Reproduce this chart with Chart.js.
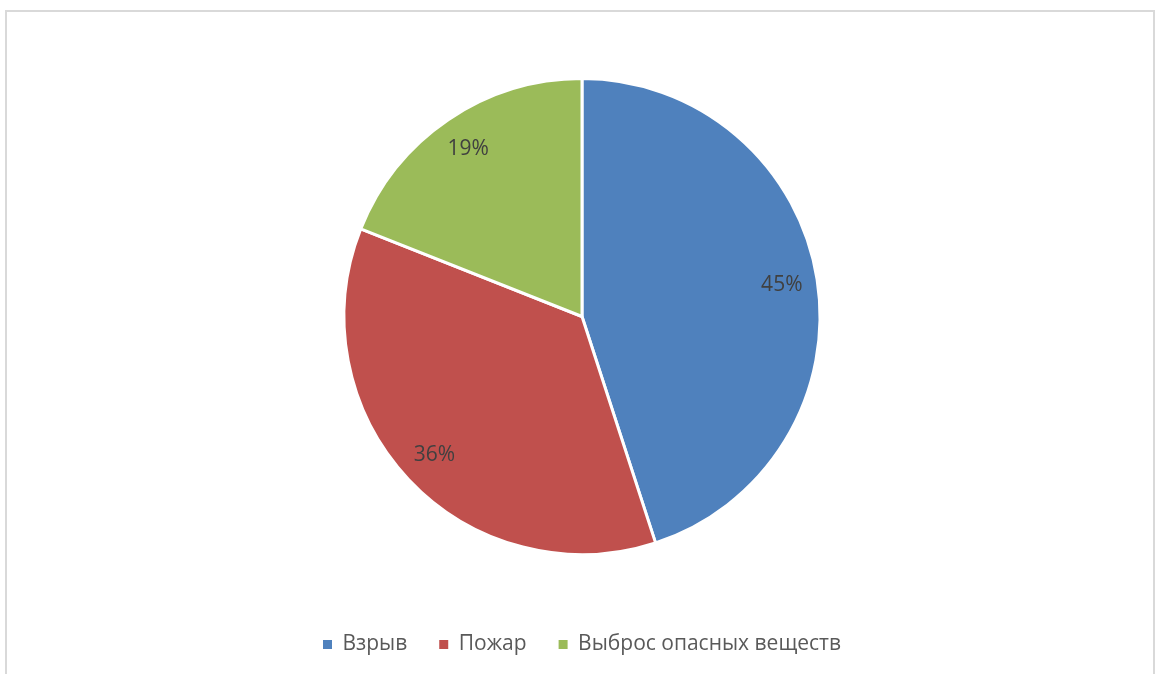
<!DOCTYPE html>
<html>
<head>
<meta charset="utf-8">
<script src="https://cdn.jsdelivr.net/npm/chart.js@4/dist/chart.umd.min.js"></script>
<style>
    html, body { margin: 0; padding: 0; background: #fff; }
    #wrap { position: relative; width: 1162px; height: 674px; overflow: hidden; }
    #frame { position: absolute; left: 5px; top: 10px; width: 1150px; height: 700px; border: 2px solid #d9d9d9; box-sizing: border-box; }
    #chart { position: absolute; left: 0; top: 0; }
</style>
</head>
<body>
<div id="wrap">
    <div id="frame"></div>
    <canvas id="chart" width="1162" height="674"></canvas>
</div>
<script>
const categories = ['Взрыв', 'Пожар', 'Выброс опасных веществ'];
const shares = [45, 36, 19];
const sliceColors = ['#4F81BD', '#C0504D', '#9BBB59'];

// подписи долей внутри секторов
const sliceLabels = {
    id: 'sliceLabels',
    afterDatasetsDraw(chart) {
        const ctx = chart.ctx;
        const meta = chart.getDatasetMeta(0);
        ctx.save();
        ctx.font = '21px "Open Sans", sans-serif';
        ctx.fillStyle = '#404040';
        ctx.textAlign = 'center';
        ctx.textBaseline = 'middle';
        meta.data.forEach((arc, i) => {
            const p = arc.getProps(['x', 'y', 'startAngle', 'endAngle', 'outerRadius'], true);
            const mid = (p.startAngle + p.endAngle) / 2;
            const r = p.outerRadius * 0.85;
            ctx.fillText(shares[i] + '%', p.x + Math.cos(mid) * r, p.y + Math.sin(mid) * r);
        });
        ctx.restore();
    }
};

const ctx = document.getElementById('chart').getContext('2d');
new Chart(ctx, {
    type: 'pie',
    data: {
        labels: categories,
        datasets: [{
            data: shares,
            backgroundColor: sliceColors,
            borderColor: '#ffffff',
            borderWidth: 3,
            radius: 238
        }]
    },
    options: {
        responsive: false,
        animation: false,
        layout: { padding: { top: 31, bottom: 9, left: 2, right: 0 } },
        plugins: {
            tooltip: { enabled: false },
            legend: {
                position: 'bottom',
                labels: {
                    boxWidth: 9,
                    boxHeight: 9,
                    padding: 32,
                    color: '#595959',
                    font: { family: '"Open Sans", sans-serif', size: 21 },
                    generateLabels: (chart) => Chart.overrides.pie.plugins.legend.labels.generateLabels(chart)
                        .map((item) => ({ ...item, lineWidth: 0, strokeStyle: 'rgba(0,0,0,0)' }))
                }
            }
        }
    },
    plugins: [sliceLabels]
});
</script>
</body>
</html>
